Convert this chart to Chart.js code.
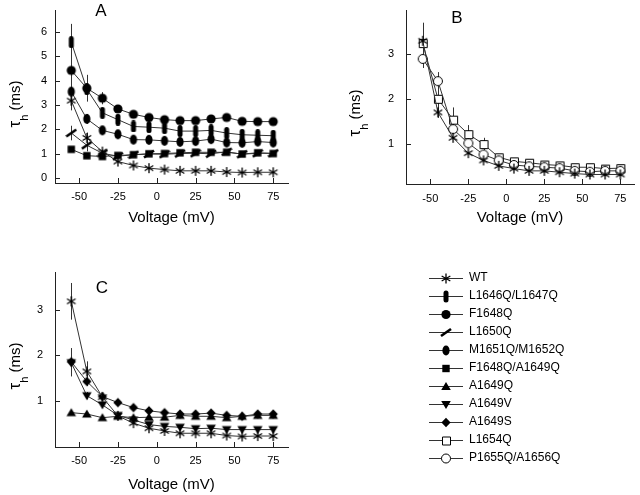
<!DOCTYPE html>
<html>
<head>
<meta charset="utf-8">
<script src="https://cdn.jsdelivr.net/npm/chart.js@4.4.1/dist/chart.umd.min.js"></script>
<style>
body { margin: 0; background: #fff; width: 640px; height: 495px; position: relative; overflow: hidden; }
.box { position: absolute; }
</style>
</head>
<body>
<div class="box" style="left:0;top:0;width:300px;height:235px"><canvas id="chartA"></canvas></div>
<div class="box" style="left:330px;top:0;width:310px;height:235px"><canvas id="chartB"></canvas></div>
<div class="box" style="left:0;top:250px;width:300px;height:245px"><canvas id="chartC"></canvas></div>
<div class="box" style="left:423px;top:266px;width:217px;height:205px"><canvas id="legend"></canvas></div>
<script>
// test potentials (mV)
const voltage = [-55, -45, -35, -25, -15, -5, 5, 15, 25, 35, 45, 55, 65, 75];
const xTicks = [-50, -25, 0, 25, 50, 75];

// tau_h (ms)
const wt        = [3.18, 1.65, 1.09, 0.68, 0.52, 0.41, 0.35, 0.30, 0.30, 0.30, 0.25, 0.23, 0.24, 0.24];
const wtB       = [3.28, 1.70, 1.14, 0.80, 0.64, 0.52, 0.46, 0.41, 0.41, 0.38, 0.35, 0.33, 0.33, 0.33];
const l1646q    = [5.58, 3.65, 2.68, 2.40, 2.12, 2.09, 2.05, 1.93, 1.93, 1.96, 1.85, 1.78, 1.76, 1.74];
const f1648q    = [4.42, 3.69, 3.28, 2.84, 2.62, 2.49, 2.40, 2.36, 2.36, 2.43, 2.49, 2.33, 2.32, 2.32];
const l1650q    = [1.85, 1.35, 1.02, 0.90, 0.96, 0.99, 0.98, 1.01, 1.02, 1.00, 1.08, 0.98, 1.02, 1.02];
const m1651q    = [3.55, 2.43, 1.96, 1.80, 1.58, 1.57, 1.53, 1.49, 1.52, 1.60, 1.46, 1.45, 1.50, 1.46];
const f1648qA   = [1.18, 0.92, 0.89, 0.93, 0.96, 1.00, 1.01, 1.04, 1.06, 1.06, 1.06, 0.99, 1.04, 1.01];
const a1649q    = [0.75, 0.72, 0.64, 0.67, 0.64, 0.65, 0.65, 0.69, 0.67, 0.67, 0.64, 0.67, 0.69, 0.69];
const a1649v    = [1.84, 1.12, 0.92, 0.69, 0.59, 0.49, 0.45, 0.43, 0.40, 0.41, 0.38, 0.38, 0.38, 0.38];
const a1649s    = [1.86, 1.43, 1.10, 0.97, 0.86, 0.79, 0.75, 0.72, 0.72, 0.74, 0.69, 0.67, 0.72, 0.72];
const l1654q    = [3.23, 2.00, 1.54, 1.22, 1.00, 0.71, 0.62, 0.59, 0.55, 0.53, 0.49, 0.49, 0.46, 0.47];
const p1655q    = [2.88, 2.39, 1.33, 1.02, 0.77, 0.64, 0.54, 0.51, 0.49, 0.47, 0.41, 0.39, 0.41, 0.41];

// error bars (only where they show above the markers)
const wtErr      = [0.40, 0.22, 0.08];
const wtBErr     = [0.10, 0.12];
const l1646qErr  = [0.75, 0.30, 0.20];
const f1648qErr  = [0.50, 0.55, 0.25, 0.12];
const l1650qErr  = [0.30, 0.25];
const m1651qErr  = [0.45, 0.20];
const a1649vErr  = [0.30, 0.08];
const a1649sErr  = [0.30, 0.10];
const l1654qErr  = [0.45, 0.25, 0.27, 0.20, 0.14, 0.06];
const p1655qErr  = [0.20, 0.20, 0.10, 0.08];

const legendNames = ['WT', 'L1646Q/L1647Q', 'F1648Q', 'L1650Q', 'M1651Q/M1652Q', 'F1648Q/A1649Q',
                     'A1649Q', 'A1649V', 'A1649S', 'L1654Q', 'P1655Q/A1656Q'];
const legendKinds = ['asterisk', 'capsule', 'circle', 'slash', 'ellipse', 'square',
                     'triUp', 'triDown', 'diamond', 'openSquare', 'openCircle'];

const FONT = "'Liberation Sans', Arial, Helvetica, sans-serif";
Chart.defaults.font.family = FONT;
Chart.defaults.color = '#000';
Chart.defaults.animation = false;

function drawMarker(g, kind, m, n) {
  g.fillStyle = '#000';
  g.strokeStyle = '#000';
  g.beginPath();
  if (kind === 'asterisk') {
    g.lineWidth = 1.3;
    for (const a of [90, 30, -30]) {
      const dx = 5 * Math.cos(a * Math.PI / 180), dy = 5 * Math.sin(a * Math.PI / 180);
      g.moveTo(m - dx, n - dy); g.lineTo(m + dx, n + dy);
    }
    g.stroke();
  } else if (kind === 'capsule') {
    g.roundRect(m - 2.5, n - 6, 5, 12, 2.5); g.fill();
  } else if (kind === 'ellipse') {
    g.ellipse(m, n, 3.6, 5, 0, 0, Math.PI * 2); g.fill();
  } else if (kind === 'circle') {
    g.arc(m, n, 4.6, 0, Math.PI * 2); g.fill();
  } else if (kind === 'slash') {
    g.lineWidth = 2.6; g.moveTo(m - 5, n + 3.5); g.lineTo(m + 5, n - 3.5); g.stroke();
  } else if (kind === 'square') {
    g.fillRect(m - 3.7, n - 3.7, 7.4, 7.4);
  } else if (kind === 'triUp') {
    g.moveTo(m, n - 4.6); g.lineTo(m + 4.8, n + 3.6); g.lineTo(m - 4.8, n + 3.6); g.closePath(); g.fill();
  } else if (kind === 'triDown') {
    g.moveTo(m, n + 4.6); g.lineTo(m + 4.8, n - 3.6); g.lineTo(m - 4.8, n - 3.6); g.closePath(); g.fill();
  } else if (kind === 'diamond') {
    g.moveTo(m, n - 4.8); g.lineTo(m + 4.6, n); g.lineTo(m, n + 4.8); g.lineTo(m - 4.6, n); g.closePath(); g.fill();
  } else if (kind === 'openSquare') {
    g.fillStyle = '#fff'; g.lineWidth = 1;
    g.rect(m - 3.5, n - 3.5, 8, 8); g.fill(); g.stroke();
  } else if (kind === 'openCircle') {
    g.fillStyle = '#fff'; g.lineWidth = 1;
    g.arc(m, n, 4.5, 0, Math.PI * 2); g.fill(); g.stroke();
  }
}

function marker(kind) {
  const c = document.createElement('canvas');
  c.width = 12; c.height = 12;
  drawMarker(c.getContext('2d'), kind, 6, 6);
  return c;
}

function legendIcon(kind) {
  const c = document.createElement('canvas');
  c.width = 34; c.height = 14;
  const g = c.getContext('2d');
  g.strokeStyle = '#333'; g.lineWidth = 1;
  g.beginPath(); g.moveTo(0, 7.5); g.lineTo(34, 7.5); g.stroke();
  drawMarker(g, kind, 17, 7.5);
  return c;
}

function series(label, values, kind, errors) {
  return {
    label: label,
    data: values.map((v, i) => ({ x: voltage[i], y: v })),
    errors: errors || [],
    borderColor: '#333',
    borderWidth: 1,
    pointStyle: marker(kind),
    pointRadius: 5,
    tension: 0
  };
}

const errorBars = {
  id: 'errorBars',
  beforeDatasetsDraw(chart) {
    const { ctx, scales: { x, y } } = chart;
    ctx.save();
    ctx.strokeStyle = '#333';
    ctx.lineWidth = 1;
    chart.data.datasets.forEach(ds => {
      ds.data.forEach((p, i) => {
        const e = ds.errors[i];
        if (!e) return;
        const px = Math.round(x.getPixelForValue(p.x)) + 0.5;
        ctx.beginPath();
        ctx.moveTo(px, y.getPixelForValue(p.y + e));
        ctx.lineTo(px, y.getPixelForValue(p.y - e));
        ctx.stroke();
      });
    });
    ctx.restore();
  }
};

// tick marks point into the plot
const innerTicks = {
  id: 'innerTicks',
  afterDraw(chart) {
    const { ctx, chartArea: a, scales: { x, y } } = chart;
    ctx.save();
    ctx.strokeStyle = '#222';
    ctx.lineWidth = 1;
    ctx.beginPath();
    x.ticks.forEach(t => {
      const px = Math.round(x.getPixelForValue(t.value)) + 0.5;
      ctx.moveTo(px, a.bottom); ctx.lineTo(px, a.bottom - 5);
    });
    y.ticks.forEach(t => {
      const py = Math.round(y.getPixelForValue(t.value)) + 0.5;
      ctx.moveTo(a.left, py); ctx.lineTo(a.left + 5, py);
    });
    ctx.stroke();
    ctx.restore();
  }
};

// panel letter and the tau_h (ms) axis title with a real subscript
const panelText = {
  id: 'panelText',
  afterDraw(chart, args, o) {
    const ctx = chart.ctx;
    ctx.save();
    ctx.fillStyle = '#000';
    ctx.font = '17px ' + FONT;
    ctx.textAlign = 'center';
    ctx.textBaseline = 'middle';
    ctx.fillText(o.letter, o.lx, o.ly);

    ctx.translate(o.tx, o.ty);
    ctx.rotate(-Math.PI / 2);
    ctx.textAlign = 'left';
    ctx.textBaseline = 'alphabetic';
    const big = '17px ' + FONT, small = '11px ' + FONT, mid = '15px ' + FONT;
    ctx.font = big; const w1 = ctx.measureText('τ').width;
    ctx.font = small; const w2 = ctx.measureText('h').width;
    ctx.font = mid; const w3 = ctx.measureText(' (ms)').width;
    let cx = -(w1 + w2 + w3) / 2;
    ctx.font = big; ctx.fillText('τ', cx, 4.5); cx += w1;
    ctx.font = small; ctx.fillText('h', cx, 13); cx += w2;
    ctx.font = mid; ctx.fillText(' (ms)', cx, 4.5);
    ctx.restore();
  }
};

function panel(id, datasets, p) {
  return new Chart(document.getElementById(id), {
    type: 'line',
    data: { datasets: datasets },
    plugins: [errorBars, innerTicks, panelText],
    options: {
      responsive: true,
      maintainAspectRatio: false,
      layout: { padding: p.padding },
      plugins: {
        legend: { display: false },
        tooltip: { enabled: false },
        panelText: p.text
      },
      scales: {
        x: {
          type: 'linear',
          min: p.xMin, max: p.xMax,
          afterBuildTicks: s => { s.ticks = xTicks.map(v => ({ value: v })); },
          afterFit: s => { s.height = p.xHeight; s.paddingLeft = 0; s.paddingRight = 0; },
          grid: { display: false, drawTicks: false },
          border: { display: true, color: '#222', width: 1 },
          ticks: { padding: p.xPad, font: { size: 11 }, color: '#000' },
          title: { display: true, text: 'Voltage (mV)', font: { size: 15 }, color: '#000', padding: p.titlePad }
        },
        y: {
          type: 'linear',
          min: p.yMin, max: p.yMax,
          afterBuildTicks: s => { s.ticks = p.yTicks.map(v => ({ value: v })); },
          afterFit: s => { s.width = p.yWidth; s.paddingTop = 0; s.paddingBottom = 0; },
          grid: { display: false, drawTicks: false },
          border: { display: true, color: '#222', width: 1 },
          ticks: { padding: p.yPad, font: { size: 11 }, color: '#000' }
        }
      }
    }
  });
}

panel('chartA', [
  series('WT', wt, 'asterisk', wtErr),
  series('F1648Q/A1649Q', f1648qA, 'square'),
  series('L1650Q', l1650q, 'slash', l1650qErr),
  series('M1651Q/M1652Q', m1651q, 'ellipse', m1651qErr),
  series('L1646Q/L1647Q', l1646q, 'capsule', l1646qErr),
  series('F1648Q', f1648q, 'circle', f1648qErr)
], {
  padding: { left: 0, top: 10, right: 12, bottom: 0 },
  xMin: -65.5, xMax: 84.5, xHeight: 52, xPad: 7, titlePad: 8,
  yMin: -0.2, yMax: 6.9, yTicks: [0, 1, 2, 3, 4, 5, 6], yWidth: 55, yPad: 8,
  text: { letter: 'A', lx: 101, ly: 11, tx: 15, ty: 104 }
});

panel('chartB', [
  series('WT', wtB, 'asterisk', wtBErr),
  series('P1655Q/A1656Q', p1655q, 'openCircle', p1655qErr),
  series('L1654Q', l1654q, 'openSquare', l1654qErr)
], {
  padding: { left: 0, top: 10, right: 5, bottom: 0 },
  xMin: -66, xMax: 84, xHeight: 51, xPad: 8, titlePad: 8,
  yMin: 0.12, yMax: 3.96, yTicks: [1, 2, 3], yWidth: 76, yPad: 12,
  text: { letter: 'B', lx: 127, ly: 18, tx: 25, ty: 113 }
});

panel('chartC', [
  series('WT', wt, 'asterisk', wtErr),
  series('A1649Q', a1649q, 'triUp'),
  series('A1649V', a1649v, 'triDown', a1649vErr),
  series('A1649S', a1649s, 'diamond', a1649sErr)
], {
  padding: { left: 0, top: 22, right: 12, bottom: 0 },
  xMin: -65.5, xMax: 84.5, xHeight: 48, xPad: 7, titlePad: 1,
  yMin: 0, yMax: 3.82, yTicks: [1, 2, 3], yWidth: 55, yPad: 12,
  text: { letter: 'C', lx: 102, ly: 38, tx: 15, ty: 116 }
});

const legendIcons = legendKinds.map(legendIcon);

new Chart(document.getElementById('legend'), {
  type: 'line',
  data: { datasets: legendNames.map(n => ({ label: n, data: [] })) },
  options: {
    responsive: true,
    maintainAspectRatio: false,
    layout: { padding: 0 },
    scales: { x: { display: false }, y: { display: false } },
    plugins: {
      tooltip: { enabled: false },
      legend: {
        position: 'left',
        align: 'start',
        maxWidth: 217,
        labels: {
          usePointStyle: true,
          pointStyleWidth: 34,
          padding: 6,
          color: '#000',
          font: { size: 12 },
          generateLabels: chart => chart.data.datasets.map((ds, i) => ({
            text: ds.label,
            pointStyle: legendIcons[i],
            datasetIndex: i,
            hidden: false,
            lineWidth: 0,
            strokeStyle: 'rgba(0,0,0,0)',
            fillStyle: 'rgba(0,0,0,0)',
            fontColor: '#000'
          }))
        }
      }
    }
  }
});
</script>
</body>
</html>
